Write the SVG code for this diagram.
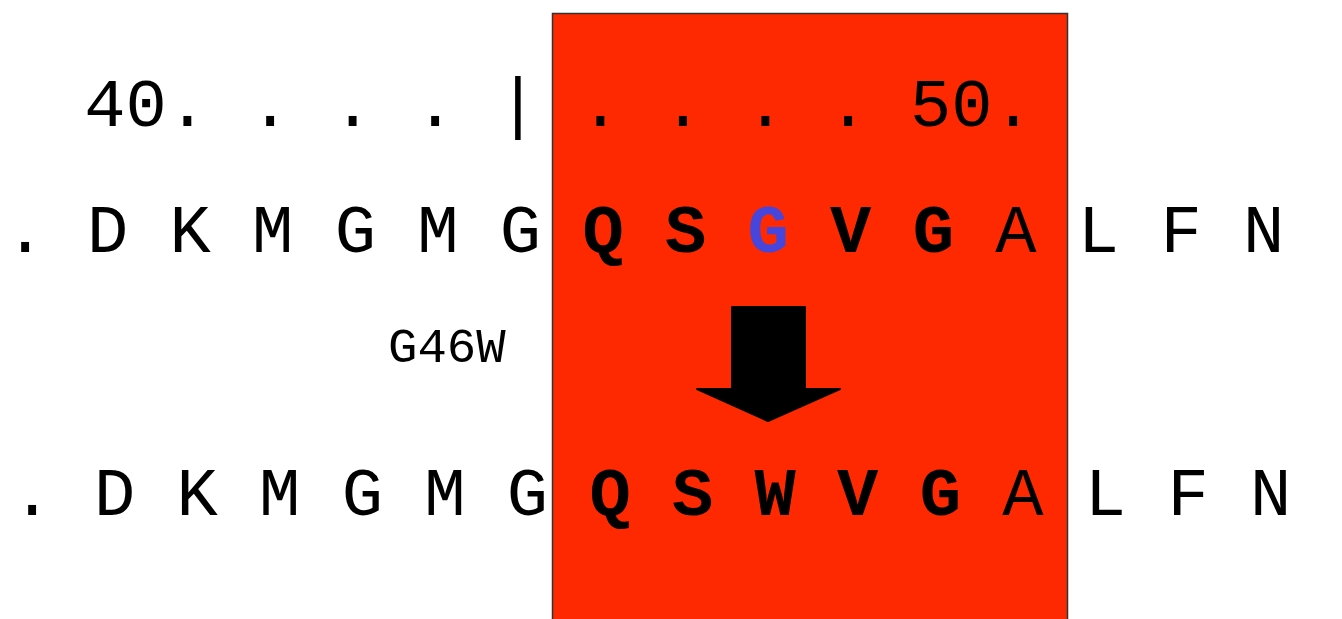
<svg xmlns="http://www.w3.org/2000/svg" width="1342" height="619" viewBox="0 0 1342 619">
  <style>
    .seq { font-family: "Liberation Mono", "Courier New", monospace; font-size: 68.8px; fill: #000; }
    .b { font-weight: bold; }
    .mut { fill: #4646dc; }
    .label { font-family: "Liberation Mono", "Courier New", monospace; font-size: 49px; fill: #000; }
  </style>
  <rect width="1342" height="619" fill="#fff"/>

  <!-- highlighted window around the mutated site -->
  <g id="highlight">
    <rect x="552.5" y="13.5" width="515" height="620" fill="#ff2900" stroke="#333" stroke-width="1.5"/>
  </g>

  <!-- residue numbering ruler -->
  <g id="ruler">
    <text class="seq" x="84.3" y="126" xml:space="preserve">40. . . . | . . . . 50.</text>
  </g>

  <!-- wild-type sequence -->
  <g id="wildtype">
    <text class="seq" x="4.4" y="252" xml:space="preserve">. D K M G M G <tspan class="b">Q S </tspan><tspan class="b mut">G</tspan><tspan class="b"> V G</tspan> A L F N .</text>
  </g>

  <!-- mutation label -->
  <g id="mutation-label">
    <text class="label" x="388" y="362">G46W</text>
  </g>

  <!-- substitution arrow -->
  <g id="connectors">
    <path d="M732,307 H805 V389 H840 L768,421 L697,389 H732 Z" fill="#000" stroke="#000" stroke-width="2" stroke-linejoin="round"/>
  </g>

  <!-- mutant sequence -->
  <g id="mutant">
    <text class="seq" x="11.4" y="515" xml:space="preserve">. D K M G M G <tspan class="b">Q S W V G</tspan> A L F N .</text>
  </g>
</svg>
